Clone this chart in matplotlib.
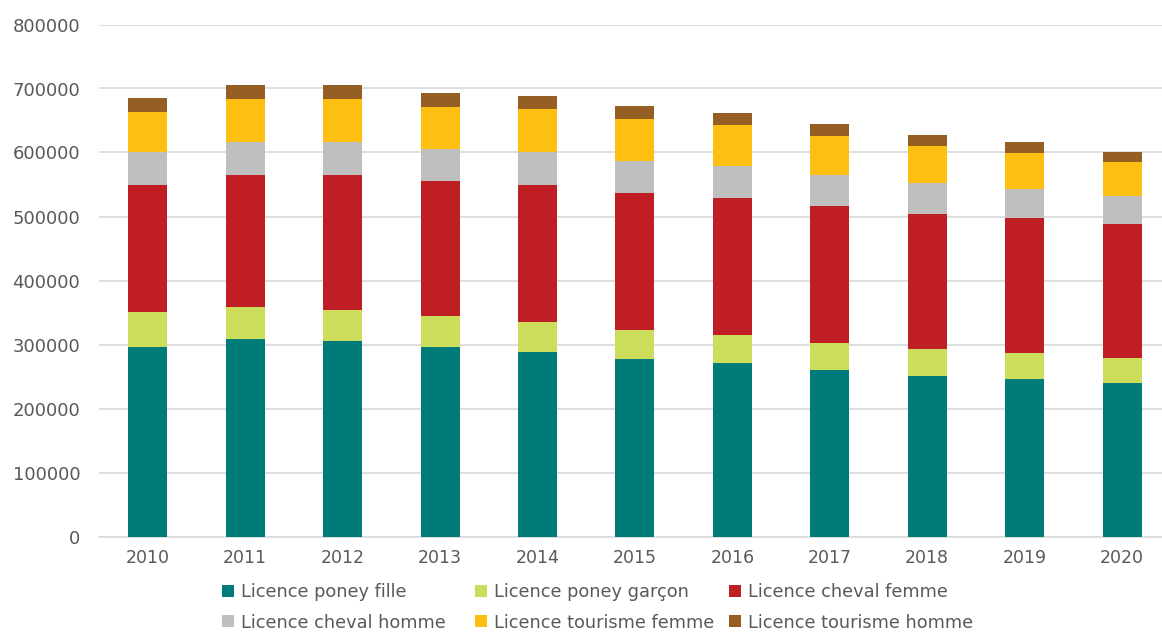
import matplotlib
matplotlib.use("Agg")
import matplotlib.pyplot as plt
import numpy as np

years = ["2010", "2011", "2012", "2013", "2014", "2015", "2016", "2017", "2018", "2019", "2020"]
series_names = ["Licence poney fille", "Licence poney garçon", "Licence cheval femme",
                "Licence cheval homme", "Licence tourisme femme", "Licence tourisme homme"]
poney_fille    = [296600, 308600, 305000, 296600, 288300, 277900, 271100, 260200, 251300, 246100, 239300]
poney_garcon   = [53700, 50500, 48900, 47400, 46900, 45300, 43700, 42100, 41200, 40600, 39600]
cheval_femme   = [198400, 206200, 211400, 211000, 214000, 214000, 214600, 214100, 211900, 211400, 209900]
cheval_homme   = [52100, 51100, 51100, 50000, 51600, 50000, 50000, 48000, 47900, 45400, 43700]
tourisme_femme = [63000, 66700, 66700, 66600, 66700, 64600, 63100, 60900, 57400, 56200, 52700]
tourisme_homme = [21400, 21900, 21900, 21900, 20800, 20300, 19200, 18700, 17100, 17200, 15100]
colors = ["#007B79", "#CBDD5A", "#BE1E24", "#BFBFBF", "#FDBF12", "#955E23"]

data = [poney_fille, poney_garcon, cheval_femme, cheval_homme, tourisme_femme, tourisme_homme]

W, H = 1162, 632
fig = plt.figure(figsize=(W / 100, H / 100), dpi=100)
ax = fig.add_axes([99 / W, (H - 536.5) / H, 1 - 99 / W, 512 / H])

x = np.arange(len(years))
bottom = np.zeros(len(years))
handles = []
for vals, c, name in zip(data, colors, series_names):
    b = ax.bar(x, vals, width=0.4, bottom=bottom, color=c, label=name, zorder=3)
    handles.append(b)
    bottom += np.array(vals)

ax.set_ylim(0, 800000)
ax.set_xlim(-0.5, 10.41)
ax.set_yticks(np.arange(0, 800001, 100000))
ax.set_yticklabels([str(v) for v in range(0, 800001, 100000)])
ax.set_xticks(x)
ax.set_xticklabels(years)
ax.grid(axis="y", color="#D9D9D9", linewidth=1.2, zorder=0)
for s in ["left", "right", "top"]:
    ax.spines[s].set_visible(False)
ax.spines["bottom"].set_color("#D9D9D9")
ax.spines["bottom"].set_linewidth(1.2)
ax.tick_params(axis="both", length=0, colors="#595959")
ax.tick_params(axis="y", pad=13.5, labelsize=13)
ax.tick_params(axis="x", pad=9, labelsize=12.5)

# legend: three columns of two rows, each column placed at its own position
col_x = [222, 475, 729]
for ci, xpix in enumerate(col_x):
    idx = [ci, ci + 3]
    leg = fig.legend([handles[i] for i in idx], [series_names[i] for i in idx],
                     ncol=1, loc="center left", bbox_to_anchor=(xpix / W, (H - 607.5) / H),
                     frameon=False, fontsize=12.8, labelcolor="#595959", borderpad=0,
                     borderaxespad=0,
                     handlelength=0.65, handleheight=0.65, handletextpad=0.4,
                     labelspacing=0.68)

fig.savefig("out.png", dpi=100)
